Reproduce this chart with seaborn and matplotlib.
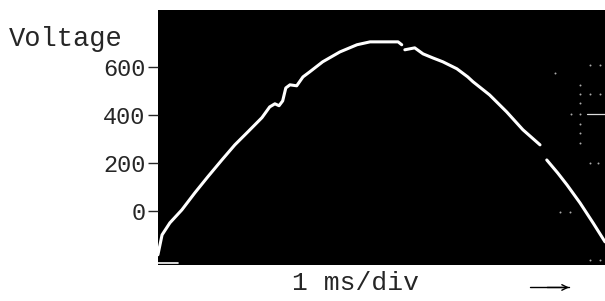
import pandas as pd
import seaborn as sns
import matplotlib.pyplot as plt

# ---------------- Data ----------------
time_ms = [0.00, 0.08, 0.23, 0.46, 0.71, 0.96, 1.23, 1.48, 1.73, 2.00, 2.15, 2.25,
           2.33, 2.40, 2.46, 2.54, 2.67, 2.79, 2.92, 3.17, 3.50, 3.83, 4.08, 4.40,
           4.62, 4.69,
           4.75, 4.94, 5.10, 5.29, 5.48, 5.75, 5.96, 6.06, 6.38, 6.71, 7.02, 7.35,
           7.48, 7.69, 7.87, 8.12, 8.37, 8.60]
voltage = [-183, -100, -50, 4, 75, 142, 212, 275, 329, 388, 433, 446,
           438, 458, 512, 525, 521, 558, 579, 621, 662, 692, 704, 704,
           704, 692,
           671, 679, 654, 637, 621, 592, 558, 538, 483, 412, 338, 275,
           212, 158, 108, 33, -50, -129]
segment = [0] * 26 + [1] * 12 + [2] * 6

yticks = [0, 200, 400, 600]

# faint graticule dots on the right of the screen
dot_t = [8.31, 8.50, 7.63, 8.12, 8.12, 8.31, 8.50, 8.12, 7.94, 8.12,
         8.12, 8.12, 8.12, 8.31, 8.46, 7.73, 7.92, 8.31, 8.50]
dot_v = [608, 608, 575, 525, 487, 487, 487, 450, 404, 404,
         362, 325, 283, 200, 200, -4, -4, -204, -204]

df = pd.DataFrame({"t": time_ms, "v": voltage, "seg": segment})

# ---------------- Plot ----------------
sns.set_style("white")
plt.rcParams["font.family"] = ["Liberation Mono", "DejaVu Sans Mono"]

fig = plt.figure(figsize=(6.05, 3.01), dpi=100)
ax = fig.add_axes([0.261, 0.12, 0.739, 0.847])
ax.set_facecolor("black")

sns.lineplot(data=df, x="t", y="v", units="seg", estimator=None, sort=False,
             color="white", linewidth=2.2, ax=ax)
sns.scatterplot(x=dot_t, y=dot_v, color="#aaaaaa", s=2, linewidth=0, ax=ax)
ax.plot([8.25, 8.6], [404, 404], color="#dddddd", linewidth=0.9)
ax.plot([0.0, 0.38], [-217, -217], color="white", linewidth=1.2)

ax.set_xlim(0, 8.6)
ax.set_ylim(-225, 837)
ax.set_xticks([])
ax.set_yticks(yticks)
ax.set_yticklabels([str(v) for v in yticks])
ax.tick_params(axis="y", left=True, length=7, width=1, pad=2, labelsize=17)
ax.set_xlabel("")
ax.set_ylabel("")
for s in ax.spines.values():
    s.set_visible(False)

fig.text(0.015, 0.87, "Voltage", fontsize=19.5, ha="left", va="center")
fig.text(0.588, 0.06, "1 ms/div", fontsize=19, ha="center", va="center")
fig.add_artist(plt.Line2D([0.876, 0.94], [0.045, 0.045], color="black", lw=1))
ax.annotate("", xy=(0.945, 0.045), xytext=(0.90, 0.045), xycoords="figure fraction",
            arrowprops=dict(arrowstyle="->", color="black", lw=1))

fig.savefig("out.png", dpi=100)
